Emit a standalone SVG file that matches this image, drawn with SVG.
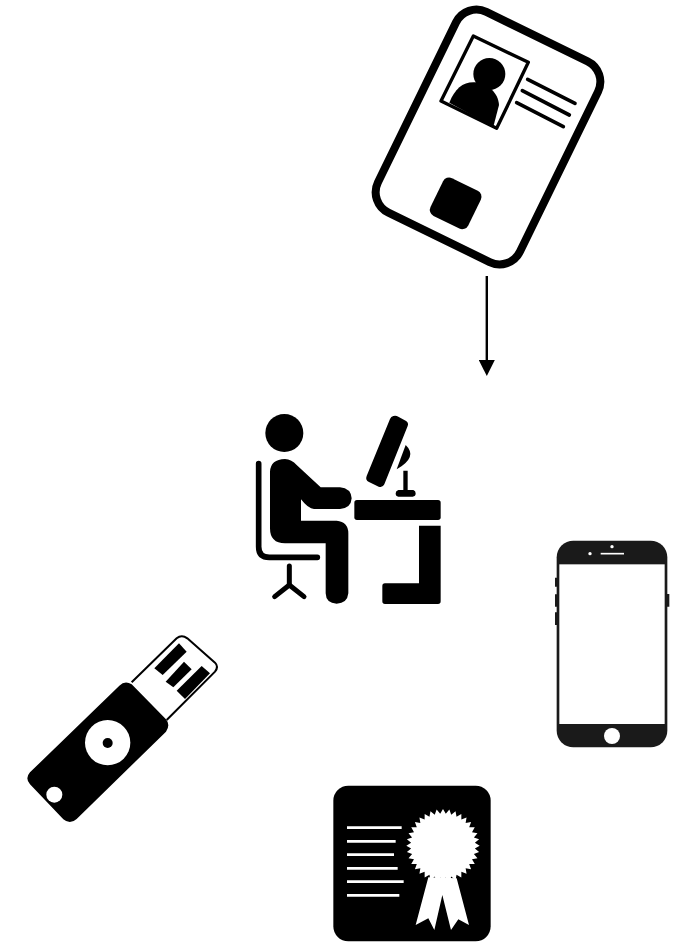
<svg xmlns="http://www.w3.org/2000/svg" width="677" height="942" viewBox="0 0 677 942">
<style>
.k{fill:#000}
.w{fill:#fff}
.pl{fill:#1a1a1a}
.ln{fill:none;stroke:#000;stroke-linecap:round}
.wl{fill:none;stroke:#fff;stroke-width:8}
.conn{fill:none;stroke:#000;stroke-width:2.4}
</style>
<defs>
<marker id="arrow" markerUnits="userSpaceOnUse" markerWidth="16" markerHeight="16" refX="1" refY="8" orient="auto">
<path d="M0,0L16,8L0,16Z" fill="#000"/>
</marker>
</defs>
<rect width="677" height="942" fill="#fff"/>
<g id="connectors">
<path class="conn" d="M486.8,276V361" marker-end="url(#arrow)"/>
</g>
<g id="id-card" transform="translate(360 0) scale(.33333)">
<rect x="-237" y="-335" width="474" height="670" rx="68" transform="translate(384 411) rotate(26)" fill="#fff" stroke="#000" stroke-width="24"/>
<polygon points="340,108 505,187 410,385 243,303" fill="#fff" stroke="#000" stroke-width="10" stroke-linejoin="round"/>
<circle class="k" cx="388" cy="222" r="48"/>
<path class="k" d="M268,308C285,265 310,245 345,247C385,250 415,280 417,315L400,380Z"/>
<path class="ln" stroke-width="11" stroke-linecap="butt" d="M503,238L645,310M487,272L628,345M470,308L610,380"/>
<rect class="k" x="-63" y="-63" width="126" height="126" rx="20" transform="translate(287 610) rotate(26)"/>
</g>
<g id="workstation" transform="translate(240 400) scale(.33333)">
<circle class="k" cx="133" cy="99" r="57"/>
<path class="ln" stroke-width="17" d="M56,191V440Q56,472 88,472H232"/>
<path class="ln" stroke-width="15" stroke-linecap="butt" d="M148,498V552"/>
<path class="ln" stroke-width="15" stroke-linejoin="round" d="M104,590L148,555L192,590"/>
<path class="k" d="M90,215Q92,178 135,177Q155,178 170,195L242,262H300Q333,265 335,295Q333,325 300,327H222Q205,327 183,298V362H290Q325,365 325,400V580Q322,610 290,611Q258,610 257,580V430H135Q90,430 90,385Z"/>
<rect class="k" x="343" y="300" width="259" height="60" rx="8"/>
<path class="k" d="M537,377H602V604Q602,612 594,612H435Q427,612 427,604V558Q427,550 435,550H537Z"/>
<path class="k" d="M460,48Q468,46 475,50L497,62Q507,68 503,78L433,253Q428,264 416,260L387,246Q375,240 380,228L450,57Q453,50 460,48Z"/>
<path class="k" d="M497,135Q535,171 470,208Z"/>
<path class="k" d="M490,212H503V270H520Q527,272 527,280Q527,290 518,290H475Q467,290 467,280Q467,272 475,270H490Z"/>
</g>
<g id="usb-key" transform="translate(20 630) scale(.33333)">
<path d="M335,157L470,25Q485,12 502,25L585,98Q597,110 585,125L440,270" fill="#fff" stroke="#000" stroke-width="6"/>
<polygon class="k" points="403,115 477,40 500,65 428,135"/>
<polygon class="k" points="437,155 492,95 515,118 460,172"/>
<polygon class="k" points="470,182 545,108 570,130 495,207"/>
<path class="k" d="M298,167Q315,150 335,163L438,268Q452,285 438,305L170,567Q150,585 130,568L30,463Q14,445 30,427Z"/>
<circle class="w" cx="263" cy="338" r="68"/>
<circle class="k" cx="263" cy="339" r="15"/>
<circle class="w" cx="103" cy="494" r="24"/>
</g>
<g id="phone" transform="translate(545 535) scale(.33333)">
<path class="pl" d="M30,128H36V155H30ZM30,178H36V215H30ZM30,232H36V270H30ZM366,177H373V215H366Z"/>
<rect class="pl" x="35" y="17" width="332" height="620" rx="50"/>
<rect class="w" x="43" y="88" width="316" height="479"/>
<circle class="w" cx="201" cy="35" r="5"/>
<circle class="w" cx="135" cy="56" r="5"/>
<path d="M167,56H237" stroke="#fff" stroke-width="5" fill="none"/>
<circle class="w" cx="201" cy="603" r="24"/>
</g>
<g id="certificate" transform="translate(325 780) scale(.33333)">
<rect class="k" x="25" y="17" width="472" height="467" rx="45"/>
<path class="wl" d="M66,143H230M66,184H212M66,224H207M66,265H218M66,305H236M66,346H223"/>
<polygon class="w" transform="translate(354 197)" points="110,0 95.6,8.4 108.3,19.1 92.7,24.8 103.4,37.6 87,40.6 95.3,55 78.6,55.1 84.3,70.7 67.9,67.9 70.7,84.3 55.1,78.6 55,95.3 40.6,87 37.6,103.4 24.8,92.7 19.1,108.3 8.4,95.6 0,110 -8.4,95.6 -19.1,108.3 -24.8,92.7 -37.6,103.4 -40.6,87 -55,95.3 -55.1,78.6 -70.7,84.3 -67.9,67.9 -84.3,70.7 -78.6,55.1 -95.3,55 -87,40.6 -103.4,37.6 -92.7,24.8 -108.3,19.1 -95.6,8.4 -110,0 -95.6,-8.4 -108.3,-19.1 -92.7,-24.8 -103.4,-37.6 -87,-40.6 -95.3,-55 -78.6,-55.1 -84.3,-70.7 -67.9,-67.9 -70.7,-84.3 -55.1,-78.6 -55,-95.3 -40.6,-87 -37.6,-103.4 -24.8,-92.7 -19.1,-108.3 -8.4,-95.6 0,-110 8.4,-95.6 19.1,-108.3 24.8,-92.7 37.6,-103.4 40.6,-87 55,-95.3 55.1,-78.6 70.7,-84.3 67.9,-67.9 84.3,-70.7 78.6,-55.1 95.3,-55 87,-40.6 103.4,-37.6 92.7,-24.8 108.3,-19.1 95.6,-8.4"/>
<polygon class="w" points="310,292 272,435 310,415 328,450 352,345 378,450 400,418 432,435 395,295"/>
</g>
</svg>
